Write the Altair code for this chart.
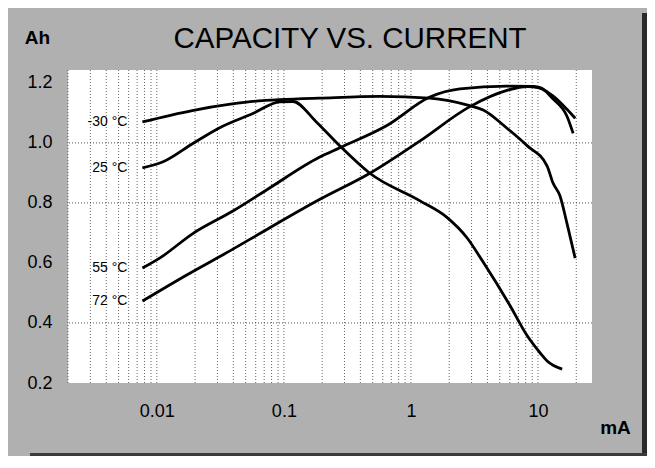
import altair as alt
import pandas as pd

# ---- data ----
series_names = ["-30 °C", "25 °C", "55 °C", "72 °C"]

m30_ma = [0.0077, 0.019, 0.038, 0.068, 0.093, 0.19, 0.57, 1.4, 2.9, 3.7, 5.7, 8.2, 11.8, 13.1, 14.9, 16.9, 19.6]
m30_ah = [1.07, 1.108, 1.129, 1.141, 1.144, 1.149, 1.155, 1.149, 1.124, 1.11, 1.049, 0.991, 0.923, 0.867, 0.823, 0.732, 0.616]

t25_ma = [0.0077, 0.0112, 0.0192, 0.031, 0.057, 0.093, 0.118, 0.18, 0.276, 0.475, 1.18, 1.92, 2.76, 3.69, 6.0, 8.2, 10.4, 11.8, 15.5]
t25_ah = [0.917, 0.937, 0.998, 1.05, 1.098, 1.137, 1.138, 1.07, 0.99, 0.899, 0.807, 0.752, 0.684, 0.604, 0.459, 0.358, 0.30, 0.273, 0.246]

t55_ma = [0.0077, 0.0106, 0.0192, 0.0397, 0.0735, 0.19, 0.276, 0.647, 1.41, 2.43, 5.7, 9.14, 13.1, 16.9, 19.6]
t55_ah = [0.583, 0.617, 0.698, 0.773, 0.844, 0.952, 0.984, 1.058, 1.153, 1.18, 1.189, 1.188, 1.157, 1.112, 1.082]

t72_ma = [0.0077, 0.0172, 0.0397, 0.0684, 0.192, 0.475, 1.18, 2.91, 5.7, 8.19, 10.4, 13.1, 16.9, 18.9]
t72_ah = [0.473, 0.56, 0.646, 0.704, 0.812, 0.899, 1.007, 1.121, 1.175, 1.188, 1.184, 1.147, 1.089, 1.032]

chart_title = "CAPACITY VS. CURRENT"
x_tick_values = [0.01, 0.1, 1, 10]
y_tick_values = [0.2, 0.4, 0.6, 0.8, 1.0, 1.2]
y_grid_values = [0.4, 0.8, 1.0]
x_grid_values = [0.002, 0.003, 0.004, 0.005, 0.006, 0.007, 0.008, 0.009,
                 0.01, 0.02, 0.03, 0.04, 0.05, 0.06, 0.07, 0.08, 0.09,
                 0.1, 0.2, 0.3, 0.4, 0.5, 0.6, 0.7, 0.8, 0.9,
                 1, 2, 3, 4, 5, 6, 7, 8, 9, 10, 20]

# ---- tables ----
all_series = [(series_names[0], m30_ma, m30_ah), (series_names[1], t25_ma, t25_ah),
              (series_names[2], t55_ma, t55_ah), (series_names[3], t72_ma, t72_ah)]
rows = []
for name, xs, ys in all_series:
    for i, (xv, yv) in enumerate(zip(xs, ys)):
        rows.append({"series": name, "ma": xv, "ah": yv, "order": i})
df = pd.DataFrame(rows)
labels_df = pd.DataFrame({"series": series_names,
                          "ma": [s[1][0] for s in all_series],
                          "ah": [s[2][0] for s in all_series]})
xgrid_df = pd.DataFrame({"ma": x_grid_values})
ygrid_df = pd.DataFrame({"ah": y_grid_values})

FONT = "Liberation Sans"
xscale = alt.Scale(type="log", domain=[0.002, 26.6], nice=False)
yscale = alt.Scale(domain=[0.2, 1.243], nice=False, zero=False)

xaxis = alt.Axis(values=x_tick_values, format="~g", grid=False, ticks=False, domain=False,
                 labelFont=FONT, labelFontSize=18, labelColor="black", labelPadding=19,
                 title="mA", titleFont=FONT, titleFontSize=19, titleFontWeight="bold",
                 titleColor="black", titleX=547, titleY=50, titleAlign="center",
                 titleBaseline="alphabetic")
yaxis = alt.Axis(values=y_tick_values, format=".1f", grid=False, ticks=False, domain=False,
                 labelFont=FONT, labelFontSize=18, labelColor="black", labelPadding=16,
                 title="Ah", titleFont=FONT, titleFontSize=19, titleFontWeight="bold",
                 titleColor="black", titleAngle=0, titleX=-31, titleY=-27,
                 titleAlign="center", titleBaseline="alphabetic")

# scanned-frame shadow (decorative, outside the plot)
frame_right = alt.Chart(pd.DataFrame({"k": [0]})).mark_rect(color="#2a2a2a").encode(
    x=alt.value(574), x2=alt.value(582), y=alt.value(-57), y2=alt.value(390))
frame_bottom = alt.Chart(pd.DataFrame({"k": [0]})).mark_rect(color="#3a3a3a").encode(
    x=alt.value(-38), x2=alt.value(582), y=alt.value(383), y2=alt.value(390))

xgrid = alt.Chart(xgrid_df).mark_rule(color="#333333", strokeWidth=1, strokeDash=[1, 2], opacity=0.75).encode(
    x=alt.X("ma:Q", scale=xscale, axis=xaxis))
ygrid = alt.Chart(ygrid_df).mark_rule(color="#333333", strokeWidth=1, strokeDash=[1, 2], opacity=0.85).encode(
    y=alt.Y("ah:Q", scale=yscale, axis=yaxis))

lines = alt.Chart(df).mark_line(color="black", interpolate="monotone").encode(
    x=alt.X("ma:Q", scale=xscale, axis=xaxis),
    y=alt.Y("ah:Q", scale=yscale, axis=yaxis),
    detail="series:N",
    order="order:Q",
    strokeWidth=alt.StrokeWidth("series:N", scale=alt.Scale(domain=series_names, range=[2.8, 2.8, 2.2, 2.8]),
                                legend=None),
)

labels = alt.Chart(labels_df).mark_text(align="right", baseline="middle", dx=-15, font=FONT,
                                        fontSize=14, color="black").encode(
    x=alt.X("ma:Q", scale=xscale, axis=xaxis), y=alt.Y("ah:Q", scale=yscale, axis=yaxis), text="series:N")

title_mark = alt.Chart(pd.DataFrame({"t": [chart_title]})).mark_text(
    align="center", baseline="alphabetic", font=FONT, fontSize=29.5, color="black").encode(
    x=alt.value(282), y=alt.value(-22), text="t:N")

chart = alt.layer(frame_right, frame_bottom, xgrid, ygrid, lines, labels, title_mark).properties(
    width=524, height=313,
    autosize=alt.AutoSizeParams(type="none"),
    padding={"left": 60, "top": 62, "right": 55, "bottom": 73},
    background="#b0b0b0",
).configure_view(fill="white", strokeWidth=0)

chart.save("out.html", embed_options={"renderer": "svg", "actions": False})
